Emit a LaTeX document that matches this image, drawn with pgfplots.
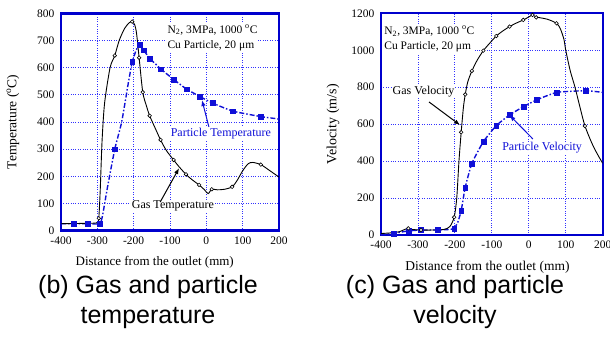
\documentclass[border=0pt]{standalone}
\usepackage{fontspec}
\setmainfont{Liberation Serif}
\newfontfamily\arialf{Liberation Sans}
\usepackage{pgfplots}
\pgfplotsset{compat=1.18}
\usetikzlibrary{arrows.meta}
\definecolor{frameblue}{RGB}{0,0,205}
\definecolor{gridblue}{RGB}{50,50,255}
\definecolor{partblue}{RGB}{15,15,215}
\pgfplotsset{
  myax/.style={
    scale only axis, anchor=south west,
    axis line style={frameblue, line width=2.2pt},
    grid=major,
    major grid style={gridblue, dotted, line width=0.9pt},
    major tick length=0pt,
    tick label style={font=\fontsize{11.5}{12}\selectfont},
    xticklabel style={yshift=-2.5pt},
    yticklabel style={xshift=-3pt},
    xmin=-400, xmax=200,
    xtick={-400,-300,-200,-100,0,100,200},
    xticklabels={-400,-300,-200,-100,0,100,200},
  },
  gasline/.style={black, line width=0.9pt, smooth, tension=0.45},
  gasmark/.style={only marks, mark=*, mark size=1.8pt, mark options={fill=white, draw=black, line width=0.6pt}},
  partline/.style={partblue, line width=1.4pt, dash pattern=on 5pt off 2pt on 1.5pt off 2pt, smooth, tension=0.3},
  partmark/.style={only marks, mark=square*, mark size=2.4pt, mark options={fill=partblue, draw=partblue, solid}},
}
\begin{document}
\begin{tikzpicture}
\useasboundingbox (0pt,0pt) rectangle (610pt,338pt);
% ---------- (b) temperature ----------
\begin{axis}[myax, at={(61pt,107.5pt)}, width=218pt, height=217pt,
  ymin=0, ymax=800,
  ytick={0,100,200,300,400,500,600,700,800},
  yticklabels={0,100,200,300,400,500,600,700,800},
  xlabel={Distance from the outlet (mm)},
  xlabel style={at={(axis description cs:0.43,-0.145)}, anchor=center, font=\fontsize{13}{15}\selectfont},
  ylabel={Temperature (\textsuperscript{o}C)},
  ylabel style={at={(axis description cs:-0.22,0.5)}, anchor=center, font=\fontsize{13.5}{15}\selectfont},
]
\addplot[partline] coordinates {
(-400,25) (-364,25) (-327,25) (-293,25) (-285,60) (-272,160) (-252,300) (-233,400) (-215,542) (-204,621) (-193,665) (-183,686) (-173,665) (-155,634) (-125,595) (-89,556) (-54,521) (-18,494) (17,470) (73,440) (150,420) (200,411)};
\addplot[partmark] coordinates {
(-364,25) (-327,25) (-293,25) (-252,300) (-204,621) (-183,686) (-173,665) (-155,634) (-125,595) (-89,556) (-54,521) (-18,494) (17,470) (73,440) (150,420)};
\addplot[gasline] coordinates {
(-400,25) (-350,26) (-310,27) (-300,30) (-296,45) (-292,150) (-287,330) (-280,470) (-265,600) (-252,645) (-240,700) (-225,745) (-212,766) (-204,770) (-197,758) (-192,726) (-185,637) (-175,510) (-165,460) (-156,423) (-140,375) (-126,334) (-110,295) (-90,260) (-75,235) (-56,207) (-40,188) (-20,168) (-5,150) (5,136) (15,152) (30,150) (50,152) (71,161) (85,185) (100,220) (115,246) (128,251) (150,243) (170,225) (200,197)};
\addplot[gasmark] coordinates {
(-296,45) (-252,645) (-204,770) (-185,637) (-175,510) (-156,423) (-126,334) (-90,260) (-56,207) (-20,168) (15,152) (71,161) (150,243)};
\node[fill=white, inner sep=1pt, align=left, anchor=north west, font=\fontsize{11.5}{15.5}\selectfont] at (axis cs:-110,762) {N\textsubscript{2}, 3MPa, 1000 \textsuperscript{o}C\\Cu Particle, 20 μm};
\node[fill=white, inner sep=1pt, text=partblue, font=\fontsize{12}{14}\selectfont] at (axis cs:40,359) {Particle Temperature};
\draw[partblue, line width=1pt, -{Latex[length=6pt,width=4.5pt]}] (axis cs:7,382) -- (axis cs:-12,481);
\node[fill=white, inner sep=1pt, font=\fontsize{12}{14}\selectfont] at (axis cs:-92,90) {Gas Temperature};
\draw[black, line width=1pt, -{Latex[length=6pt,width=4.5pt]}] (axis cs:-127,105) -- (axis cs:-75,230);
\end{axis}
% ---------- (c) velocity ----------
\begin{axis}[myax, at={(381pt,103pt)}, width=221.7pt, height=221.7pt,
  ymin=0, ymax=1200,
  ytick={0,200,400,600,800,1000,1200},
  yticklabels={0,200,400,600,800,1000,1200},
  xlabel={Distance from the outlet (mm)},
  xlabel style={at={(axis description cs:0.48,-0.145)}, anchor=center, font=\fontsize{13.5}{15}\selectfont},
  ylabel={Velocity (m/s)},
  ylabel style={at={(axis description cs:-0.2165,0.5)}, anchor=center, font=\fontsize{14}{16}\selectfont},
]
\addplot[partline] coordinates {
(-400,0) (-366,9) (-326,22) (-292,27) (-246,27) (-215,30) (-202,36) (-192,70) (-183,132) (-172,258) (-154,388) (-123,505) (-88,592) (-52,650) (-14,695) (21,731) (76,772) (154,781) (200,772)};
\addplot[partmark] coordinates {
(-366,9) (-326,22) (-292,27) (-246,27) (-202,36) (-183,132) (-172,258) (-154,388) (-123,505) (-88,592) (-52,650) (-14,695) (21,731) (76,772) (154,781)};
\addplot[gasline] coordinates {
(-400,8) (-370,12) (-350,18) (-336,30) (-326,36) (-315,30) (-292,27) (-260,27) (-230,30) (-214,45) (-202,96) (-195,200) (-189,400) (-183,556) (-177,690) (-172,761) (-165,830) (-154,888) (-140,945) (-123,998) (-105,1040) (-88,1077) (-70,1105) (-52,1128) (-35,1146) (-15,1164) (0,1180) (10,1191) (20,1180) (50,1168) (75,1146) (85,1118) (95,1060) (100,1000) (112,890) (125,800) (140,680) (152,590) (170,500) (185,440) (200,388)};
\addplot[gasmark] coordinates {
(-326,36) (-292,27) (-202,96) (-183,556) (-172,761) (-154,888) (-123,998) (-88,1077) (-52,1128) (-15,1164) (10,1191) (20,1178) (75,1146) (152,590)};
\node[fill=white, inner sep=1pt, align=left, anchor=north west, font=\fontsize{11.5}{15}\selectfont] at (axis cs:-394,1137) {N\textsubscript{2}, 3MPa, 1000 \textsuperscript{o}C\\Cu Particle, 20 μm};
\node[fill=white, inner sep=1pt, font=\fontsize{12}{14}\selectfont] at (axis cs:-285,774) {Gas Velocity};
\draw[black, line width=1pt, -{Latex[length=6pt,width=4.5pt]}] (axis cs:-270,720) -- (axis cs:-186,595);
\node[fill=white, inner sep=1pt, text=partblue, font=\fontsize{12}{14}\selectfont] at (axis cs:36,471) {Particle Velocity};
\draw[partblue, line width=1pt, -{Latex[length=6pt,width=4.5pt]}] (axis cs:11,520) -- (axis cs:-52,648);
\end{axis}
% ---------- captions ----------
\node[anchor=base, font=\arialf\fontsize{25}{28}\selectfont] at (148pt,44.5pt) {(b) Gas and particle};
\node[anchor=base, font=\arialf\fontsize{25}{28}\selectfont] at (148pt,15pt) {temperature};
\node[anchor=base, font=\arialf\fontsize{25}{28}\selectfont] at (455pt,44.5pt) {(c) Gas and particle};
\node[anchor=base, font=\arialf\fontsize{25}{28}\selectfont] at (455pt,15pt) {velocity};
\end{tikzpicture}
\end{document}
